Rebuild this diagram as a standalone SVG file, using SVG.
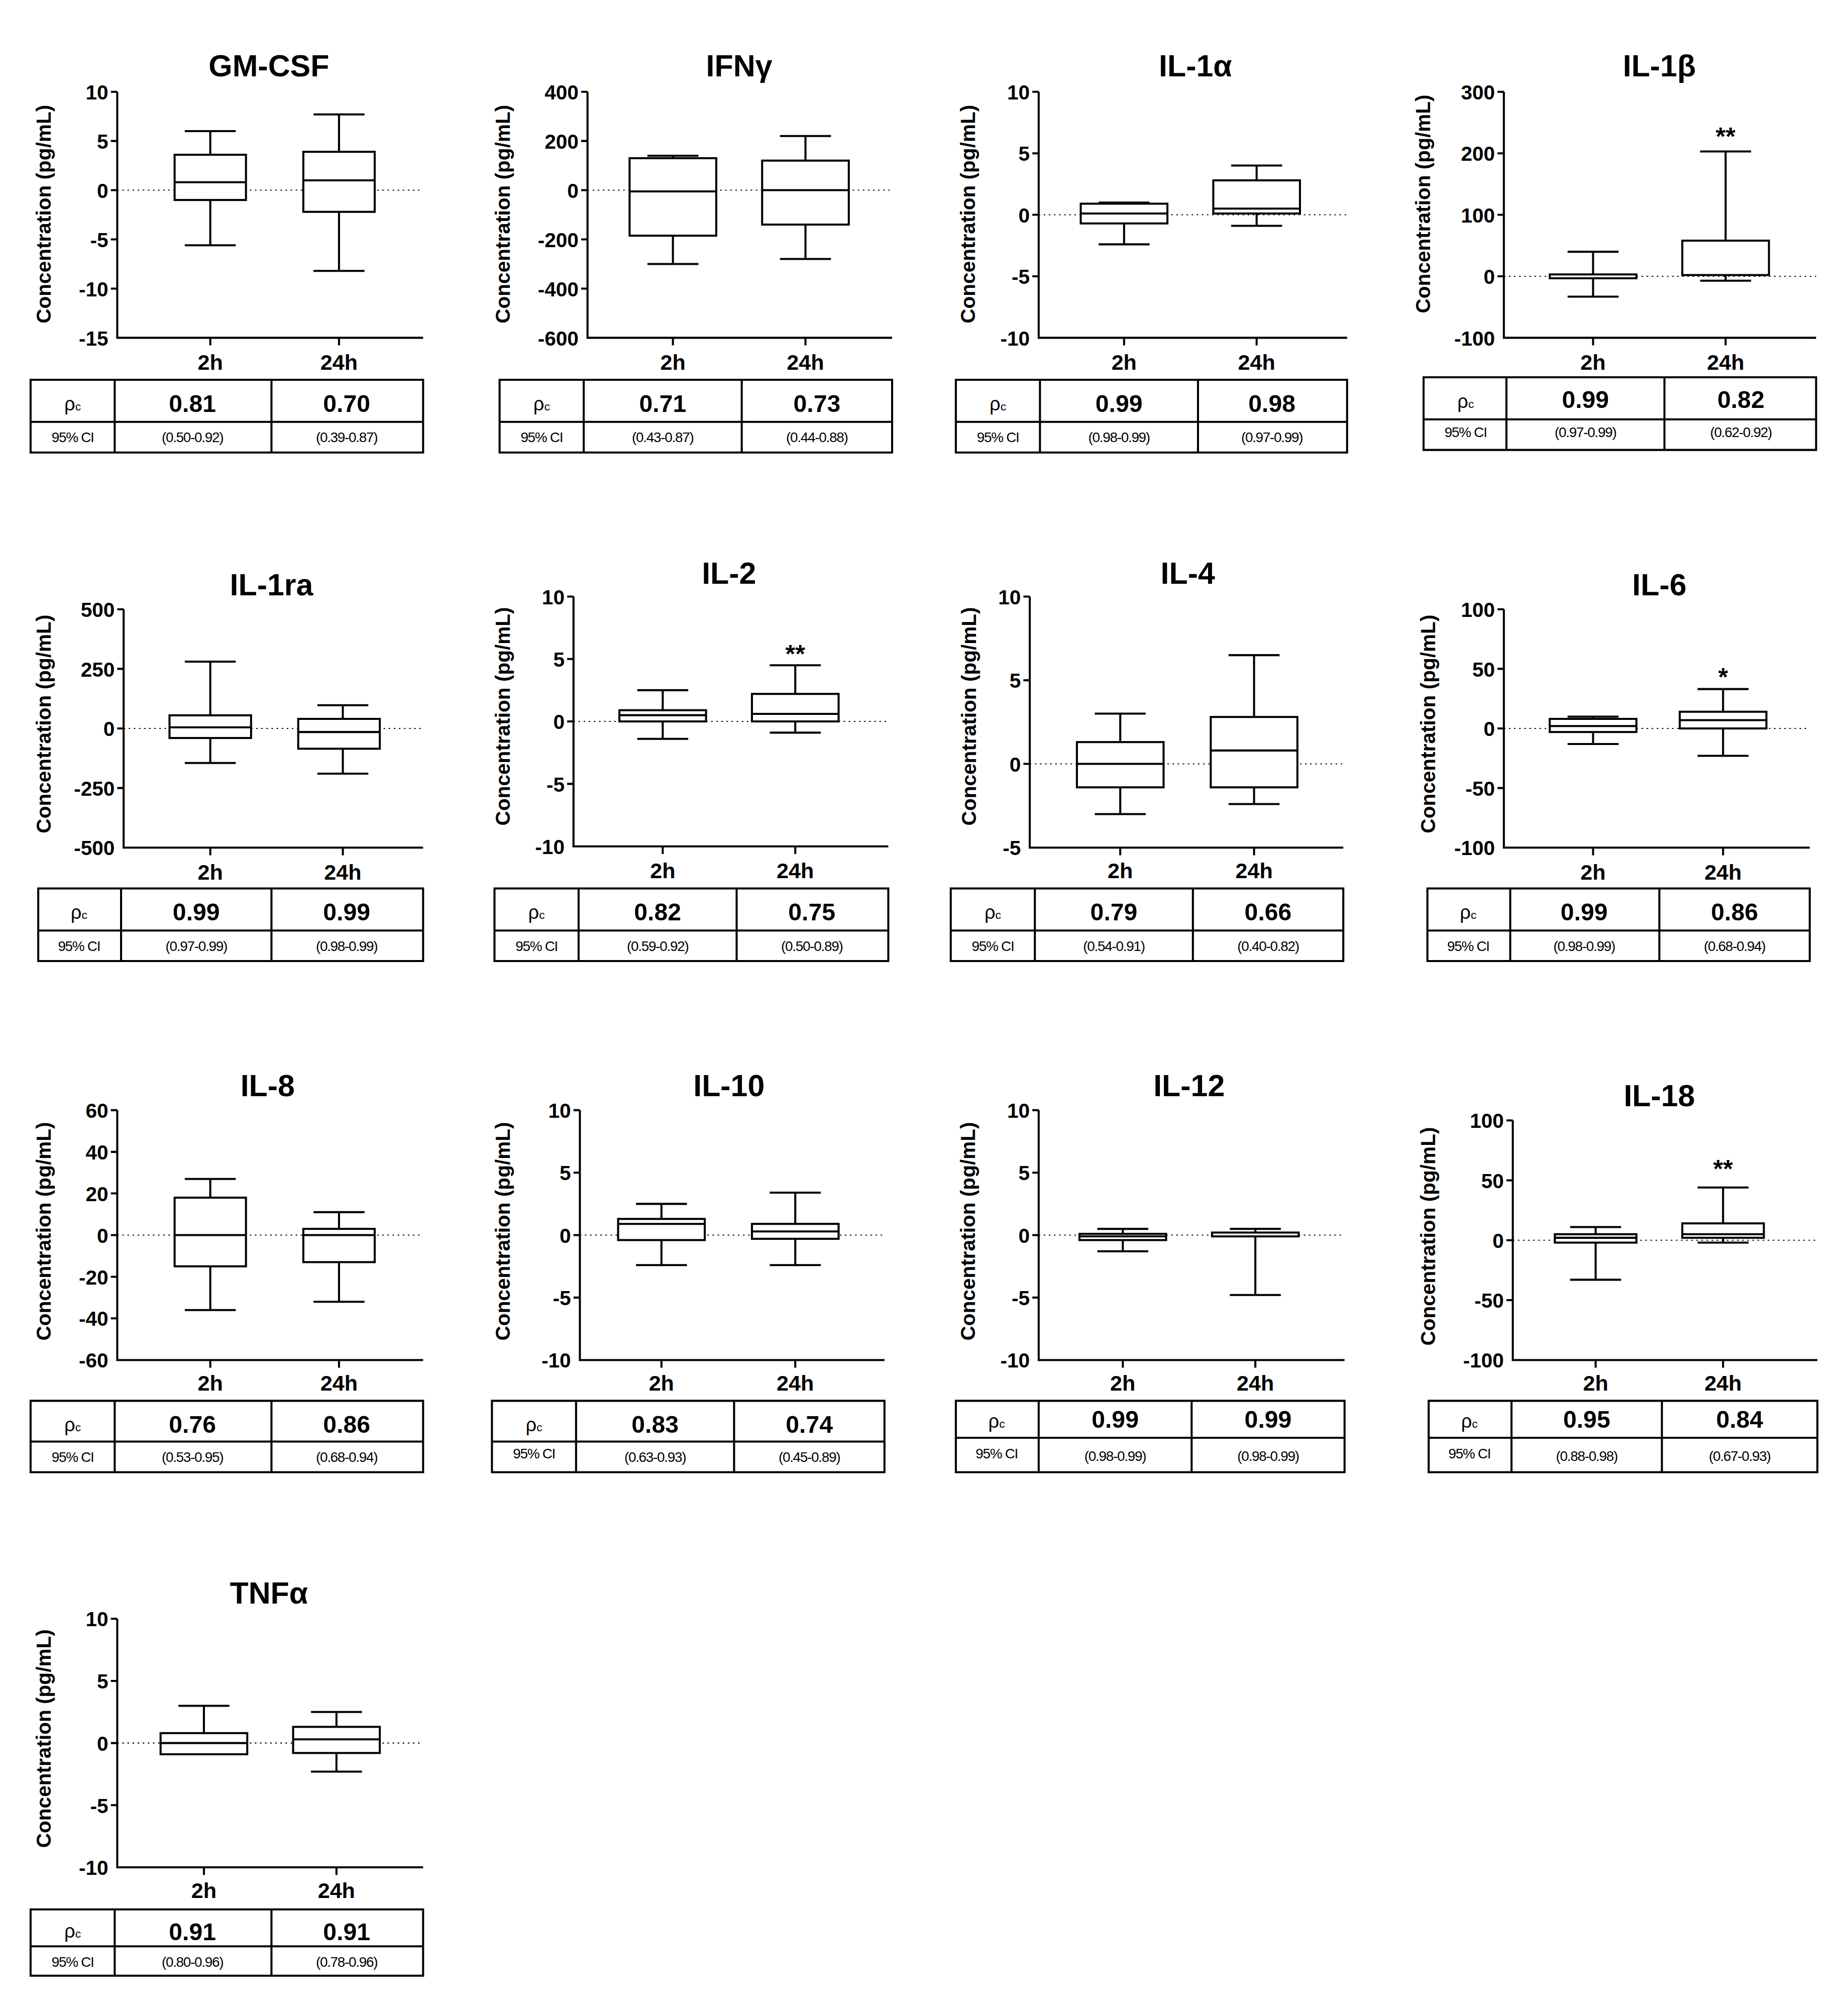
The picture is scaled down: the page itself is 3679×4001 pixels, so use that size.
<svg xmlns="http://www.w3.org/2000/svg" width="3679" height="4001" viewBox="0 0 3679 4001">
<style>
text{font-family:"Liberation Sans",Arial,sans-serif;fill:#000}
.t{font-size:24px;font-weight:bold;text-anchor:middle}
.yl{font-size:16px;font-weight:bold;text-anchor:middle}
.tk{font-size:16px;font-weight:bold;text-anchor:end}
.xl{font-size:17px;font-weight:bold;text-anchor:middle}
.v{font-size:19px;font-weight:bold;text-anchor:middle}
.ci{font-size:11px;text-anchor:middle;letter-spacing:-0.5px}
.rho{font-size:15px;text-anchor:middle}
.st{font-size:20px;font-weight:bold;text-anchor:middle}
.ax{stroke:#000;stroke-width:1.6;fill:none}
.z{stroke:#000;stroke-width:0.8;stroke-dasharray:1.2 2.8;fill:none}
.b{stroke:#000;stroke-width:1.6;fill:#fff}
.w{stroke:#000;stroke-width:1.6}
.tb{stroke:#000;stroke-width:1.6;fill:none}
</style>
<rect width="3679" height="4001" fill="#fff"/>
<g transform="scale(2.5372)">
<!-- Panel 1 GM-CSF -->
<g id="gmcsf">
<text class="t" x="211" y="60">GM-CSF</text>
<text class="yl" transform="translate(40,168) rotate(-90)">Concentration (pg/mL)</text>
<line class="z" x1="92" y1="149.2" x2="332" y2="149.2"/>
<path class="ax" d="M92,72V265H332M87,72H92M87,110.6H92M87,149.2H92M87,187.8H92M87,226.4H92M165,265v6M266,265v6"/>
<text class="tk" x="85" y="78">10</text><text class="tk" x="85" y="116.6">5</text><text class="tk" x="85" y="155.2">0</text><text class="tk" x="85" y="193.8">-5</text><text class="tk" x="85" y="232.4">-10</text><text class="tk" x="85" y="271">-15</text>
<path class="w" d="M165,102.9V192.4M145,102.9H185M145,192.4H185M266,89.8V212.5M246,89.8H286M246,212.5H286"/>
<rect class="b" x="137" y="121.4" width="56" height="35.5"/><line class="w" x1="137" y1="143" x2="193" y2="143"/>
<rect class="b" x="238" y="119.1" width="56" height="47.1"/><line class="w" x1="238" y1="141.5" x2="294" y2="141.5"/>
<text class="xl" x="165" y="290">2h</text><text class="xl" x="266" y="290">24h</text>
<path class="tb" d="M24,298H332V355H24ZM24,331H332M90,298V355M213,298V355"/>
<text class="rho" x="57" y="322">ρ<tspan font-size="9">c</tspan></text><text class="v" x="151" y="323">0.81</text><text class="v" x="272" y="323">0.70</text>
<text class="ci" x="57" y="347">95% CI</text><text class="ci" x="151" y="347">(0.50-0.92)</text><text class="ci" x="272" y="347">(0.39-0.87)</text>
</g>
<!-- Panel 2 IFNg -->
<g id="ifng">
<text class="t" x="580" y="60">IFNγ</text>
<text class="yl" transform="translate(400,168) rotate(-90)">Concentration (pg/mL)</text>
<line class="z" x1="461" y1="149.2" x2="700" y2="149.2"/>
<path class="ax" d="M461,72V265H700M456,72H461M456,110.6H461M456,149.2H461M456,187.8H461M456,226.4H461M528,265v6M632,265v6"/>
<text class="tk" x="454" y="78">400</text><text class="tk" x="454" y="116.6">200</text><text class="tk" x="454" y="155.2">0</text><text class="tk" x="454" y="193.8">-200</text><text class="tk" x="454" y="232.4">-400</text><text class="tk" x="454" y="271">-600</text>
<path class="w" d="M528,122.2V207.1M508,122.2H548M508,207.1H548M632,106.7V203.2M612,106.7H652M612,203.2H652"/>
<rect class="b" x="494" y="124.1" width="68" height="60.8"/><line class="w" x1="494" y1="150.2" x2="562" y2="150.2"/>
<rect class="b" x="598" y="126" width="68" height="50.2"/><line class="w" x1="598" y1="149.2" x2="666" y2="149.2"/>
<text class="xl" x="528" y="290">2h</text><text class="xl" x="632" y="290">24h</text>
<path class="tb" d="M392,298H700V355H392ZM392,331H700M458,298V355M582,298V355"/>
<text class="rho" x="425" y="322">ρ<tspan font-size="9">c</tspan></text><text class="v" x="520" y="323">0.71</text><text class="v" x="641" y="323">0.73</text>
<text class="ci" x="425" y="347">95% CI</text><text class="ci" x="520" y="347">(0.43-0.87)</text><text class="ci" x="641" y="347">(0.44-0.88)</text>
</g>
<!-- Panel 3 IL-1a -->
<g id="il1a">
<text class="t" x="938" y="60">IL-1α</text>
<text class="yl" transform="translate(765,168) rotate(-90)">Concentration (pg/mL)</text>
<line class="z" x1="815" y1="168.5" x2="1057" y2="168.5"/>
<path class="ax" d="M815,72V265H1057M810,72H815M810,120.3H815M810,168.5H815M810,216.8H815M882,265v6M986,265v6"/>
<text class="tk" x="808" y="78">10</text><text class="tk" x="808" y="126.3">5</text><text class="tk" x="808" y="174.5">0</text><text class="tk" x="808" y="222.8">-5</text><text class="tk" x="808" y="271">-10</text>
<path class="w" d="M882,158.9V191.7M862,158.9H902M862,191.7H902M986,129.9V177.2M966,129.9H1006M966,177.2H1006"/>
<rect class="b" x="848" y="159.8" width="68" height="15.5"/><line class="w" x1="848" y1="167.5" x2="916" y2="167.5"/>
<rect class="b" x="952" y="141.5" width="68" height="26"/><line class="w" x1="952" y1="163.7" x2="1020" y2="163.7"/>
<text class="xl" x="882" y="290">2h</text><text class="xl" x="986" y="290">24h</text>
<path class="tb" d="M750,298H1057V355H750ZM750,331H1057M816,298V355M940,298V355"/>
<text class="rho" x="783" y="322">ρ<tspan font-size="9">c</tspan></text><text class="v" x="878" y="323">0.99</text><text class="v" x="998" y="323">0.98</text>
<text class="ci" x="783" y="347">95% CI</text><text class="ci" x="878" y="347">(0.98-0.99)</text><text class="ci" x="998" y="347">(0.97-0.99)</text>
</g>
<!-- Panel 4 IL-1b -->
<g id="il1b">
<text class="t" x="1302" y="60">IL-1β</text>
<text class="yl" transform="translate(1122,160) rotate(-90)">Concentration (pg/mL)</text>
<line class="z" x1="1180" y1="216.8" x2="1425" y2="216.8"/>
<path class="ax" d="M1180,72V265H1425M1175,72H1180M1175,120.3H1180M1175,168.5H1180M1175,216.8H1180M1250,265v6M1354,265v6"/>
<text class="tk" x="1173" y="78">300</text><text class="tk" x="1173" y="126.3">200</text><text class="tk" x="1173" y="174.5">100</text><text class="tk" x="1173" y="222.8">0</text><text class="tk" x="1173" y="271">-100</text>
<path class="w" d="M1250,197.5V232.7M1230,197.5H1270M1230,232.7H1270M1354,118.8V220.2M1334,118.8H1374M1334,220.2H1374"/>
<rect class="b" x="1216" y="215.3" width="68" height="3" stroke-width="3"/>
<rect class="b" x="1320" y="188.8" width="68" height="27"/>
<text class="st" x="1354" y="114">**</text>
<text class="xl" x="1250" y="290">2h</text><text class="xl" x="1354" y="290">24h</text>
<path class="tb" d="M1117,296H1425V353H1117ZM1117,329H1425M1182,296V353M1306,296V353"/>
<text class="rho" x="1150" y="320">ρ<tspan font-size="9">c</tspan></text><text class="v" x="1244" y="320">0.99</text><text class="v" x="1366" y="320">0.82</text>
<text class="ci" x="1150" y="343">95% CI</text><text class="ci" x="1244" y="343">(0.97-0.99)</text><text class="ci" x="1366" y="343">(0.62-0.92)</text>
</g>
<!-- Panel 5 IL-1ra -->
<g id="il1ra">
<text class="t" x="213" y="467">IL-1ra</text>
<text class="yl" transform="translate(40,568) rotate(-90)">Concentration (pg/mL)</text>
<line class="z" x1="97" y1="571.5" x2="332" y2="571.5"/>
<path class="ax" d="M97,478V665H332M92,478H97M92,524.75H97M92,571.5H97M92,618.25H97M165,665v6M269,665v6"/>
<text class="tk" x="90" y="484">500</text><text class="tk" x="90" y="530.75">250</text><text class="tk" x="90" y="577.5">0</text><text class="tk" x="90" y="624.25">-250</text><text class="tk" x="90" y="671">-500</text>
<path class="w" d="M165,519.1V598.6M145,519.1H185M145,598.6H185M269,553.3V607M249,553.3H289M249,607H289"/>
<rect class="b" x="133" y="561.2" width="64" height="17.8"/><line class="w" x1="133" y1="570.6" x2="197" y2="570.6"/>
<rect class="b" x="234" y="564" width="64" height="23.4"/><line class="w" x1="234" y1="574.3" x2="298" y2="574.3"/>
<text class="xl" x="165" y="690">2h</text><text class="xl" x="269" y="690">24h</text>
<path class="tb" d="M30,697H332V754H30ZM30,730H332M95,697V754M213,697V754"/>
<text class="rho" x="62" y="721">ρ<tspan font-size="9">c</tspan></text><text class="v" x="154" y="722">0.99</text><text class="v" x="272" y="722">0.99</text>
<text class="ci" x="62" y="746">95% CI</text><text class="ci" x="154" y="746">(0.97-0.99)</text><text class="ci" x="272" y="746">(0.98-0.99)</text>
</g>
<!-- Panel 6 IL-2 -->
<g id="il2">
<text class="t" x="572" y="458">IL-2</text>
<text class="yl" transform="translate(400,562) rotate(-90)">Concentration (pg/mL)</text>
<line class="z" x1="450" y1="566" x2="697" y2="566"/>
<path class="ax" d="M450,468V664H697M445,468H450M445,517H450M445,566H450M445,615H450M520,664v6M624,664v6"/>
<text class="tk" x="443" y="474">10</text><text class="tk" x="443" y="523">5</text><text class="tk" x="443" y="572">0</text><text class="tk" x="443" y="621">-5</text><text class="tk" x="443" y="670">-10</text>
<path class="w" d="M520,541.5V579.7M500,541.5H540M500,579.7H540M624,521.9V574.8M604,521.9H644M604,574.8H644"/>
<rect class="b" x="486" y="557.2" width="68" height="8.8"/><line class="w" x1="486" y1="561.1" x2="554" y2="561.1"/>
<rect class="b" x="590" y="544.4" width="68" height="21.6"/><line class="w" x1="590" y1="560.1" x2="658" y2="560.1"/>
<text class="st" x="624" y="520">**</text>
<text class="xl" x="520" y="689">2h</text><text class="xl" x="624" y="689">24h</text>
<path class="tb" d="M388,697H697V754H388ZM388,730H697M454,697V754M578,697V754"/>
<text class="rho" x="421" y="721">ρ<tspan font-size="9">c</tspan></text><text class="v" x="516" y="722">0.82</text><text class="v" x="637" y="722">0.75</text>
<text class="ci" x="421" y="746">95% CI</text><text class="ci" x="516" y="746">(0.59-0.92)</text><text class="ci" x="637" y="746">(0.50-0.89)</text>
</g>
<!-- Panel 7 IL-4 -->
<g id="il4">
<text class="t" x="932" y="458">IL-4</text>
<text class="yl" transform="translate(766,562) rotate(-90)">Concentration (pg/mL)</text>
<line class="z" x1="808" y1="599.3" x2="1054" y2="599.3"/>
<path class="ax" d="M808,468V665H1054M803,468H808M803,533.7H808M803,599.3H808M879,665v6M984,665v6"/>
<text class="tk" x="801" y="474">10</text><text class="tk" x="801" y="539.7">5</text><text class="tk" x="801" y="605.3">0</text><text class="tk" x="801" y="671">-5</text>
<path class="w" d="M879,559.9V638.7M859,559.9H899M859,638.7H899M984,514V630.8M964,514H1004M964,630.8H1004"/>
<rect class="b" x="845" y="582.2" width="68" height="35.5"/><line class="w" x1="845" y1="599.3" x2="913" y2="599.3"/>
<rect class="b" x="950" y="562.5" width="68" height="55.2"/><line class="w" x1="950" y1="588.8" x2="1018" y2="588.8"/>
<text class="xl" x="879" y="689">2h</text><text class="xl" x="984" y="689">24h</text>
<path class="tb" d="M746,697H1054V754H746ZM746,730H1054M812,697V754M936,697V754"/>
<text class="rho" x="779" y="721">ρ<tspan font-size="9">c</tspan></text><text class="v" x="874" y="722">0.79</text><text class="v" x="995" y="722">0.66</text>
<text class="ci" x="779" y="746">95% CI</text><text class="ci" x="874" y="746">(0.54-0.91)</text><text class="ci" x="995" y="746">(0.40-0.82)</text>
</g>
<!-- Panel 8 IL-6 -->
<g id="il6">
<text class="t" x="1302" y="467">IL-6</text>
<text class="yl" transform="translate(1126,568) rotate(-90)">Concentration (pg/mL)</text>
<line class="z" x1="1180" y1="571.5" x2="1420" y2="571.5"/>
<path class="ax" d="M1180,478V665H1420M1175,478H1180M1175,524.75H1180M1175,571.5H1180M1175,618.25H1180M1250,665v6M1352,665v6"/>
<text class="tk" x="1173" y="484">100</text><text class="tk" x="1173" y="530.75">50</text><text class="tk" x="1173" y="577.5">0</text><text class="tk" x="1173" y="624.25">-50</text><text class="tk" x="1173" y="671">-100</text>
<path class="w" d="M1250,562.2V583.7M1230,562.2H1270M1230,583.7H1270M1352,540.6V593M1332,540.6H1372M1332,593H1372"/>
<rect class="b" x="1216" y="564" width="68" height="10.3"/><line class="w" x1="1216" y1="569.6" x2="1284" y2="569.6"/>
<rect class="b" x="1318" y="558.4" width="68" height="13.1"/><line class="w" x1="1318" y1="565" x2="1386" y2="565"/>
<text class="st" x="1352" y="538">*</text>
<text class="xl" x="1250" y="690">2h</text><text class="xl" x="1352" y="690">24h</text>
<path class="tb" d="M1120,697H1420V754H1120ZM1120,730H1420M1185,697V754M1302,697V754"/>
<text class="rho" x="1152" y="721">ρ<tspan font-size="9">c</tspan></text><text class="v" x="1243" y="722">0.99</text><text class="v" x="1361" y="722">0.86</text>
<text class="ci" x="1152" y="746">95% CI</text><text class="ci" x="1243" y="746">(0.98-0.99)</text><text class="ci" x="1361" y="746">(0.68-0.94)</text>
</g>
<!-- Panel 9 IL-8 -->
<g id="il8">
<text class="t" x="210" y="860">IL-8</text>
<text class="yl" transform="translate(40,966) rotate(-90)">Concentration (pg/mL)</text>
<line class="z" x1="92" y1="969" x2="332" y2="969"/>
<path class="ax" d="M92,871V1067H332M87,871H92M87,903.7H92M87,936.3H92M87,969H92M87,1001.7H92M87,1034.3H92M165,1067v6M266,1067v6"/>
<text class="tk" x="85" y="877">60</text><text class="tk" x="85" y="909.7">40</text><text class="tk" x="85" y="942.3">20</text><text class="tk" x="85" y="975">0</text><text class="tk" x="85" y="1007.7">-20</text><text class="tk" x="85" y="1040.3">-40</text><text class="tk" x="85" y="1073">-60</text>
<path class="w" d="M165,924.9V1027.8M145,924.9H185M145,1027.8H185M266,951V1021.3M246,951H286M246,1021.3H286"/>
<rect class="b" x="137" y="939.6" width="56" height="53.9"/><line class="w" x1="137" y1="969" x2="193" y2="969"/>
<rect class="b" x="238" y="964.1" width="56" height="26.1"/><line class="w" x1="238" y1="969" x2="294" y2="969"/>
<text class="xl" x="165" y="1091">2h</text><text class="xl" x="266" y="1091">24h</text>
<path class="tb" d="M24,1099H332V1155H24ZM24,1131H332M90,1099V1155M213,1099V1155"/>
<text class="rho" x="57" y="1123">ρ<tspan font-size="9">c</tspan></text><text class="v" x="151" y="1124">0.76</text><text class="v" x="272" y="1124">0.86</text>
<text class="ci" x="57" y="1147">95% CI</text><text class="ci" x="151" y="1147">(0.53-0.95)</text><text class="ci" x="272" y="1147">(0.68-0.94)</text>
</g>
<!-- Panel 10 IL-10 -->
<g id="il10">
<text class="t" x="572" y="860">IL-10</text>
<text class="yl" transform="translate(400,966) rotate(-90)">Concentration (pg/mL)</text>
<line class="z" x1="455" y1="969" x2="694" y2="969"/>
<path class="ax" d="M455,871V1067H694M450,871H455M450,920H455M450,969H455M450,1018H455M519,1067v6M624,1067v6"/>
<text class="tk" x="448" y="877">10</text><text class="tk" x="448" y="926">5</text><text class="tk" x="448" y="975">0</text><text class="tk" x="448" y="1024">-5</text><text class="tk" x="448" y="1073">-10</text>
<path class="w" d="M519,944.5V992.5M499,944.5H539M499,992.5H539M624,935.7V992.5M604,935.7H644M604,992.5H644"/>
<rect class="b" x="485" y="956.3" width="68" height="16.6"/><line class="w" x1="485" y1="960.2" x2="553" y2="960.2"/>
<rect class="b" x="590" y="960.2" width="68" height="11.7"/><line class="w" x1="590" y1="966.1" x2="658" y2="966.1"/>
<text class="xl" x="519" y="1091">2h</text><text class="xl" x="624" y="1091">24h</text>
<path class="tb" d="M386,1099H694V1155H386ZM386,1131H694M452,1099V1155M576,1099V1155"/>
<text class="rho" x="419" y="1123">ρ<tspan font-size="9">c</tspan></text><text class="v" x="514" y="1124">0.83</text><text class="v" x="635" y="1124">0.74</text>
<text class="ci" x="419" y="1144">95% CI</text><text class="ci" x="514" y="1147">(0.63-0.93)</text><text class="ci" x="635" y="1147">(0.45-0.89)</text>
</g>
<!-- Panel 11 IL-12 -->
<g id="il12">
<text class="t" x="933" y="860">IL-12</text>
<text class="yl" transform="translate(765,966) rotate(-90)">Concentration (pg/mL)</text>
<line class="z" x1="815" y1="969" x2="1055" y2="969"/>
<path class="ax" d="M815,871V1067H1055M810,871H815M810,920H815M810,969H815M810,1018H815M881,1067v6M985,1067v6"/>
<text class="tk" x="808" y="877">10</text><text class="tk" x="808" y="926">5</text><text class="tk" x="808" y="975">0</text><text class="tk" x="808" y="1024">-5</text><text class="tk" x="808" y="1073">-10</text>
<path class="w" d="M881,964.1V981.7M861,964.1H901M861,981.7H901M985,964.1V1016M965,964.1H1005M965,1016H1005"/>
<rect class="b" x="847" y="968" width="68" height="4.9"/><line class="w" x1="847" y1="970" x2="915" y2="970"/>
<rect class="b" x="951" y="967" width="68" height="3" stroke-width="3"/>
<text class="xl" x="881" y="1091">2h</text><text class="xl" x="985" y="1091">24h</text>
<path class="tb" d="M750,1099H1055V1155H750ZM750,1128H1055M815,1099V1155M935,1099V1155"/>
<text class="rho" x="782" y="1120">ρ<tspan font-size="9">c</tspan></text><text class="v" x="875" y="1120">0.99</text><text class="v" x="995" y="1120">0.99</text>
<text class="ci" x="782" y="1144">95% CI</text><text class="ci" x="875" y="1146">(0.98-0.99)</text><text class="ci" x="995" y="1146">(0.98-0.99)</text>
</g>
<!-- Panel 12 IL-18 -->
<g id="il18">
<text class="t" x="1302" y="868">IL-18</text>
<text class="yl" transform="translate(1126,970) rotate(-90)">Concentration (pg/mL)</text>
<line class="z" x1="1187" y1="973" x2="1426" y2="973"/>
<path class="ax" d="M1187,879V1067H1426M1182,879H1187M1182,926H1187M1182,973H1187M1182,1020H1187M1252,1067v6M1352,1067v6"/>
<text class="tk" x="1180" y="885">100</text><text class="tk" x="1180" y="932">50</text><text class="tk" x="1180" y="979">0</text><text class="tk" x="1180" y="1026">-50</text><text class="tk" x="1180" y="1073">-100</text>
<path class="w" d="M1252,962.7V1004M1232,962.7H1272M1232,1004H1272M1352,931.6V974.9M1332,931.6H1372M1332,974.9H1372"/>
<rect class="b" x="1220" y="968.3" width="64" height="6.6"/><line class="w" x1="1220" y1="971.1" x2="1284" y2="971.1"/>
<rect class="b" x="1320" y="959.8" width="64" height="11.3"/><line class="w" x1="1320" y1="968.3" x2="1384" y2="968.3"/>
<text class="st" x="1352" y="924">**</text>
<text class="xl" x="1252" y="1091">2h</text><text class="xl" x="1352" y="1091">24h</text>
<path class="tb" d="M1121,1099H1426V1155H1121ZM1121,1128H1426M1186,1099V1155M1304,1099V1155"/>
<text class="rho" x="1153" y="1120">ρ<tspan font-size="9">c</tspan></text><text class="v" x="1245" y="1120">0.95</text><text class="v" x="1365" y="1120">0.84</text>
<text class="ci" x="1153" y="1144">95% CI</text><text class="ci" x="1245" y="1146">(0.88-0.98)</text><text class="ci" x="1365" y="1146">(0.67-0.93)</text>
</g>
<!-- Panel 13 TNFa -->
<g id="tnfa">
<text class="t" x="211" y="1258">TNFα</text>
<text class="yl" transform="translate(40,1364) rotate(-90)">Concentration (pg/mL)</text>
<line class="z" x1="92" y1="1367.5" x2="332" y2="1367.5"/>
<path class="ax" d="M92,1270V1465H332M87,1270H92M87,1318.75H92M87,1367.5H92M87,1416.25H92M160,1465v6M264,1465v6"/>
<text class="tk" x="85" y="1276">10</text><text class="tk" x="85" y="1324.75">5</text><text class="tk" x="85" y="1373.5">0</text><text class="tk" x="85" y="1422.25">-5</text><text class="tk" x="85" y="1471">-10</text>
<path class="w" d="M160,1338.3V1376.3M140,1338.3H180M264,1343.1V1389.9M244,1343.1H284M244,1389.9H284"/>
<rect class="b" x="126" y="1359.7" width="68" height="16.6"/><line class="w" x1="126" y1="1367.5" x2="194" y2="1367.5"/>
<rect class="b" x="230" y="1354.8" width="68" height="20.5"/><line class="w" x1="230" y1="1364.6" x2="298" y2="1364.6"/>
<text class="xl" x="160" y="1489">2h</text><text class="xl" x="264" y="1489">24h</text>
<path class="tb" d="M24,1498H332V1550H24ZM24,1527H332M90,1498V1550M213,1498V1550"/>
<text class="rho" x="57" y="1520">ρ<tspan font-size="9">c</tspan></text><text class="v" x="151" y="1522">0.91</text><text class="v" x="272" y="1522">0.91</text>
<text class="ci" x="57" y="1543">95% CI</text><text class="ci" x="151" y="1543">(0.80-0.96)</text><text class="ci" x="272" y="1543">(0.78-0.96)</text>
</g>
</g>
</svg>
